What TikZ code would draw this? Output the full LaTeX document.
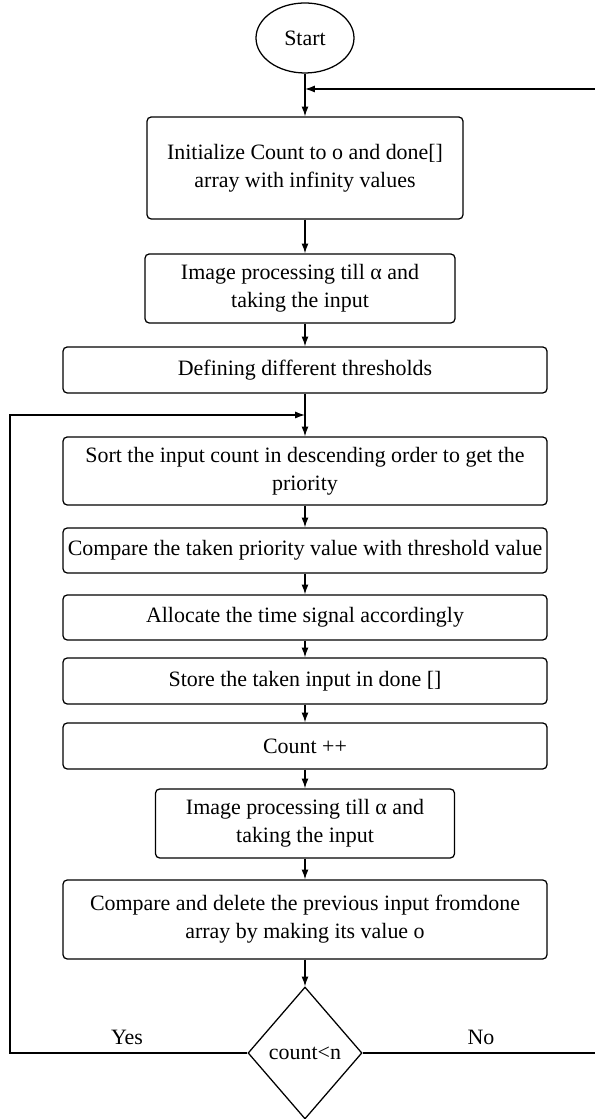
\documentclass[tikz,border=0pt]{standalone}
\usepackage{fontspec}
\setmainfont{Liberation Serif}
\usetikzlibrary{shapes,arrows,positioning,calc,arrows.meta}

\begin{document}
\begin{tikzpicture}[
    font=\fontsize{15.6}{20}\selectfont,
    line width=0.9pt,
    box/.style={draw,rectangle,rounded corners=3pt,align=center,inner sep=2pt},
    flow/.style={-{Latex[length=7pt,width=5pt]}}]
    \useasboundingbox (0,0) rectangle (14.875,27.975);

    % Start and set-up
    \node[draw,ellipse,minimum width=2.45cm,minimum height=1.75cm] (start) at (7.625,27.025) {Start};
    \coordinate (in1) at (7.625,25.75);
    \node[box,minimum width=7.9cm,minimum height=2.55cm] (init) at (7.625,23.775) {Initialize Count to o and done[]\\ array with infinity values};
    \node[box,minimum width=7.75cm,minimum height=1.725cm] (img1) at (7.5,20.7625) {Image processing till α and\\ taking the input};
    \node[box,minimum width=12.1cm,minimum height=1.15cm] (thr) at (7.625,18.725) {Defining different thresholds};
    \coordinate (in2) at (7.625,17.6);

    % Main loop
    \node[box,minimum width=12.1cm,minimum height=1.7cm] (sort) at (7.625,16.2) {Sort the input count in descending order to get the\\ priority};
    \node[box,minimum width=12.1cm,minimum height=1.125cm] (cmp) at (7.625,14.2125) {Compare the taken priority value with threshold value};
    \node[box,minimum width=12.1cm,minimum height=1.125cm] (alloc) at (7.625,12.5375) {Allocate the time signal accordingly};
    \node[box,minimum width=12.1cm,minimum height=1.15cm] (store) at (7.625,10.95) {Store the taken input in done []};
    \node[box,minimum width=12.1cm,minimum height=1.15cm] (cnt) at (7.625,9.325) {Count ++};
    \node[box,minimum width=7.475cm,minimum height=1.725cm] (img2) at (7.625,7.3875) {Image processing till α and\\ taking the input};
    \node[box,minimum width=12.1cm,minimum height=1.975cm] (del) at (7.625,4.9875) {Compare and delete the previous input fromdone\\ array by making its value o};

    % Decision
    \node[draw,diamond,inner sep=0pt,minimum width=2.85cm,minimum height=3.3cm] (dec) at (7.625,1.65) {count<n};
    \node (yes) at (3.175,2.05) {Yes};
    \node (no) at (12.025,2.05) {No};
    \coordinate (lf) at (0.25,17.6);
    \coordinate (rt) at (15.2,25.75);

    \draw[flow] (start) -- (init);
    \draw[flow] (init) -- (init.south |- img1.north);
    \draw[flow] (init.south |- img1.south) -- (init.south |- thr.north);
    \draw[flow] (thr) -- (sort);
    \draw[flow] (sort) -- (cmp);
    \draw[flow] (cmp) -- (alloc);
    \draw[flow] (alloc) -- (store);
    \draw[flow] (store) -- (cnt);
    \draw[flow] (cnt) -- (img2);
    \draw[flow] (img2) -- (del);
    \draw[flow] (del) -- (dec);

    % Yes / No loops
    \draw[flow] (dec.west) -- (dec.west -| lf) -- (lf) -- (in2);
    \draw[flow] (dec.east) -- (dec.east -| rt) -- (rt) -- (in1);
\end{tikzpicture}
\end{document}
